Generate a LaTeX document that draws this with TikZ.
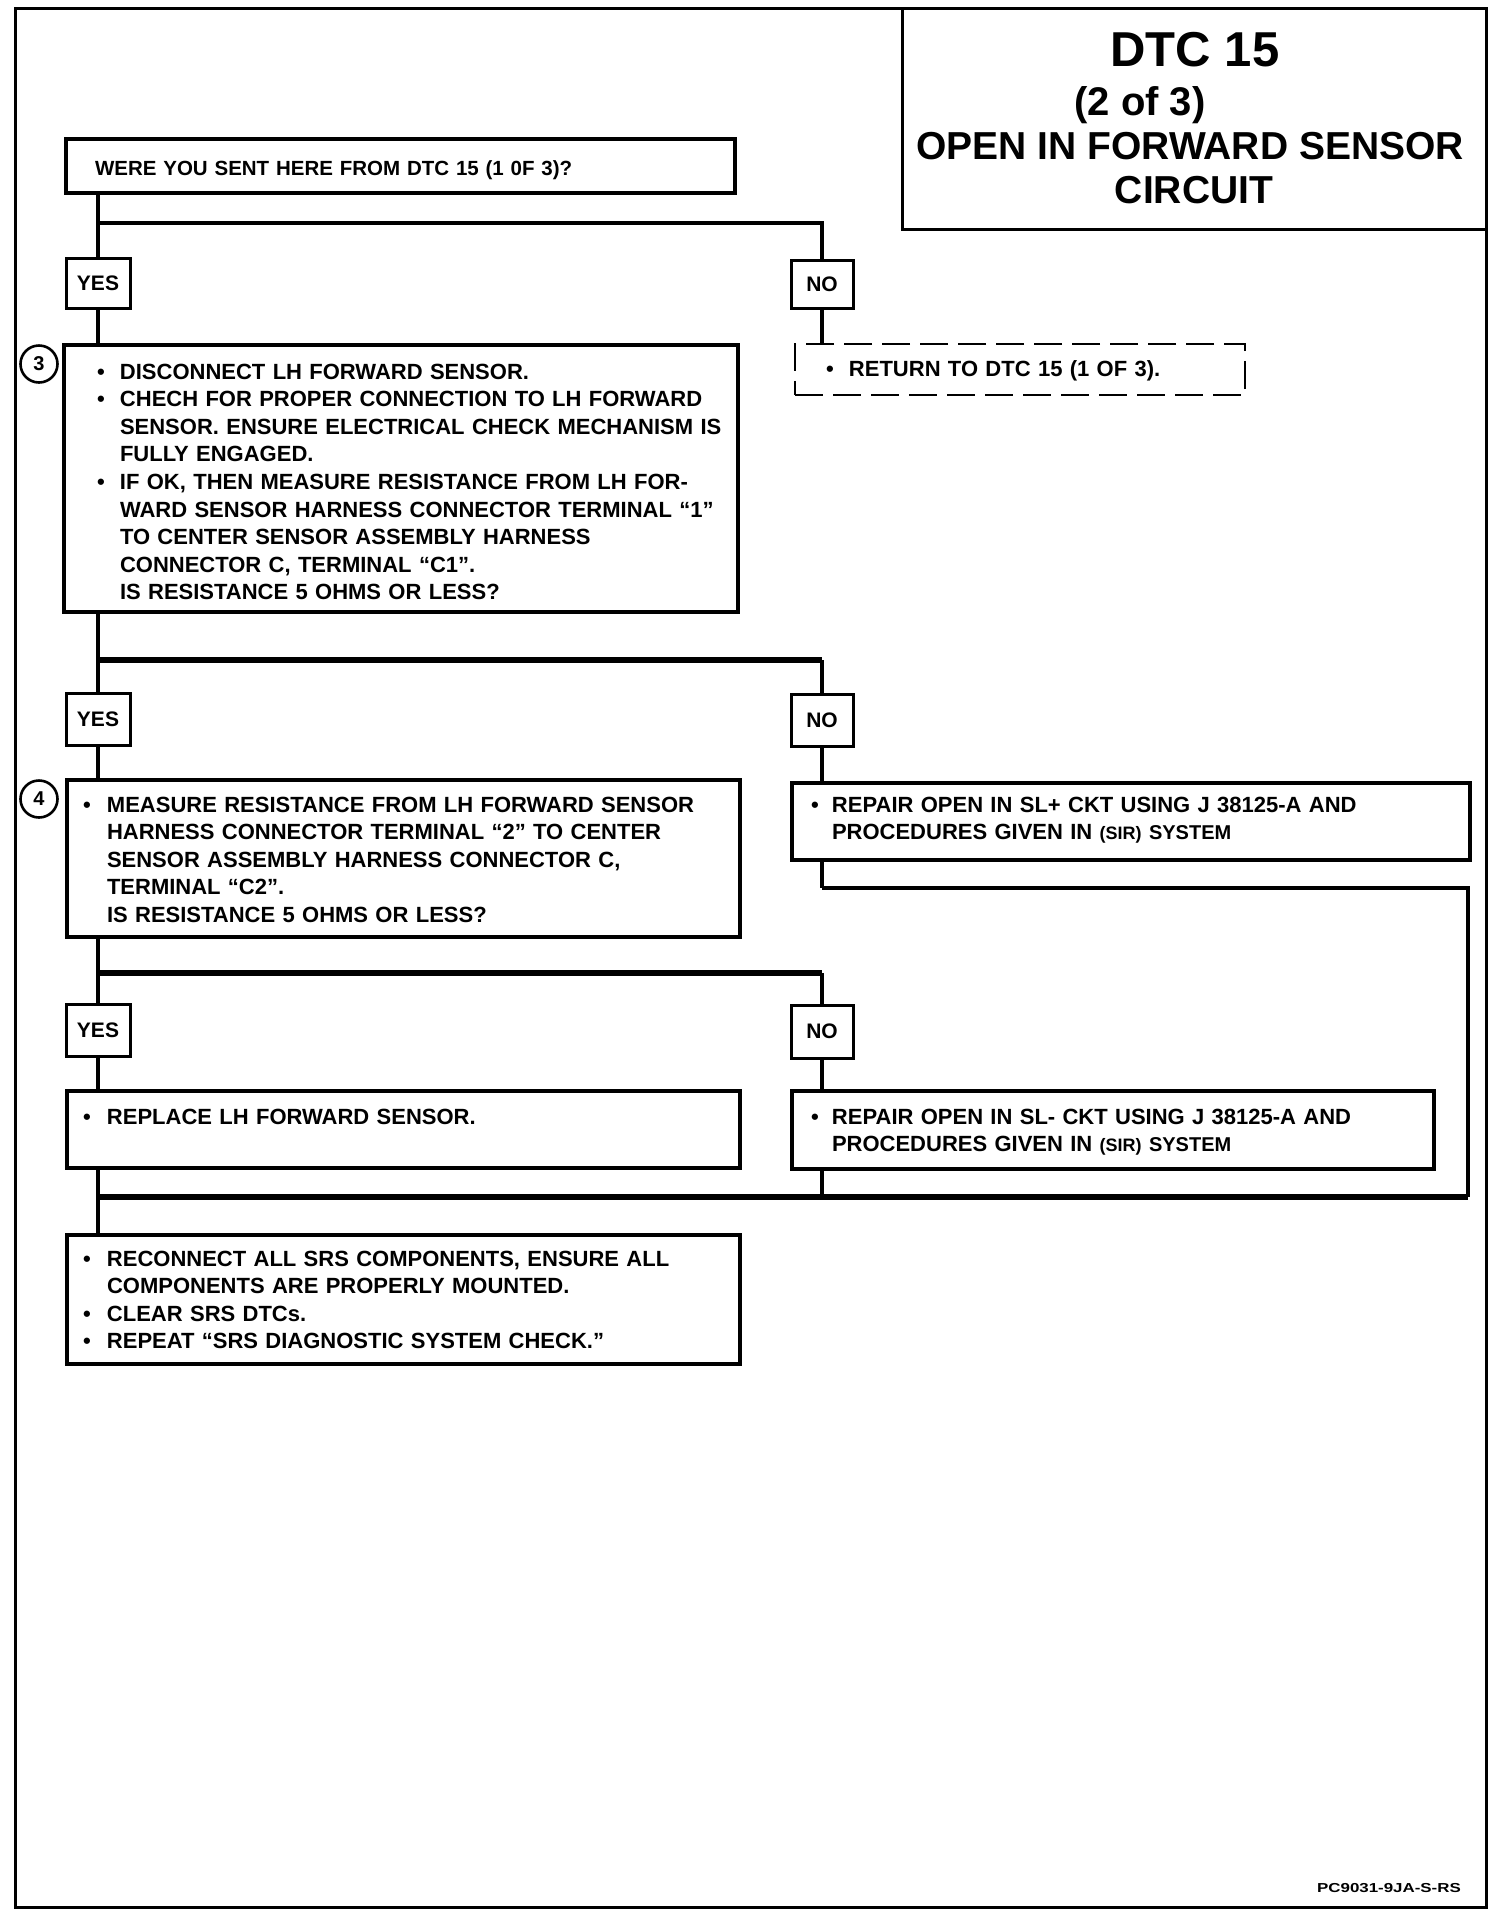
\documentclass[tikz,border=0pt]{standalone}
\usepackage{fontspec}
\setmainfont{Liberation Sans}
\usepackage{graphicx}
\newcommand{\bl}[1]{\makebox[#1][l]{\textbullet}}
\begin{document}
\begin{tikzpicture}[x=1pt,y=-1pt,
  box/.style={draw, line width=3.2pt, rectangle, inner sep=0pt, outer sep=0pt, anchor=north west},
  lbl/.style={box, line width=3pt, font=\fontsize{21}{24}\selectfont\bfseries},
  dbox/.style={box, line width=2.8pt, dash pattern=on 28pt off 10pt},
  num/.style={draw, circle, line width=2.6pt, minimum size=37pt, inner sep=0pt, font=\fontsize{20}{22}\selectfont\bfseries},
  txt/.style={inner sep=0pt, outer sep=0pt, anchor=base west, text width=680pt, align=left, font=\fontsize{22}{27.6}\selectfont\bfseries},
  ttl/.style={inner sep=0pt, outer sep=0pt, anchor=base, font=\bfseries},
  trunk/.style={line width=3.6pt},
  bro/.style={line width=3.4pt},
  br/.style={line width=5.5pt},
  rt/.style={line width=4.5pt}]
\useasboundingbox (0,0) rectangle (1504,1920);
% frame and title
\node[box, line width=3pt, minimum width=1471pt, minimum height=1899pt] (fr) at (15,8) {};
\node[box, line width=3pt, minimum width=584pt, minimum height=221pt] (tb) at (902,8) {};
\node[ttl, font=\fontsize{49}{55}\selectfont\bfseries] (t1) at (1195,66) {DTC 15};
\node[ttl, font=\fontsize{40}{45}\selectfont\bfseries] (t2) at (1140,115) {(2 of 3)};
\node[ttl, font=\fontsize{39}{44}\selectfont\bfseries] (t3) at (1190,159) {OPEN IN FORWARD SENSOR};
\node[ttl, font=\fontsize{39}{44}\selectfont\bfseries] (t4) at (1194,203) {CIRCUIT};
% boxes
\node[box, minimum width=669pt, minimum height=54pt] (b1) at (66,139) {};
\node[txt, font=\fontsize{20.5}{25}\selectfont\bfseries] (tx1) at (95,175) {WERE YOU SENT HERE FROM DTC 15 (1 0F 3)?};
\node[lbl, minimum width=64pt, minimum height=50pt] (yes1) at (66,258) {YES};
\node[lbl, minimum width=62pt, minimum height=48pt] (no1) at (791,260) {NO};
\node[box, minimum width=674pt, minimum height=267pt] (b3) at (64,345) {};
\node[num] (c3) at (39,364) {3};
\node[txt] (tx3) at (97,379) {\bl{23pt}DISCONNECT LH FORWARD SENSOR.\\
\bl{23pt}CHECH FOR PROPER CONNECTION TO LH FORWARD\\
\hspace*{23pt}SENSOR. ENSURE ELECTRICAL CHECK MECHANISM IS\\
\hspace*{23pt}FULLY ENGAGED.\\
\bl{23pt}IF OK, THEN MEASURE RESISTANCE FROM LH FOR-\\
\hspace*{23pt}WARD SENSOR HARNESS CONNECTOR TERMINAL “1”\\
\hspace*{23pt}TO CENTER SENSOR ASSEMBLY HARNESS\\
\hspace*{23pt}CONNECTOR C, TERMINAL “C1”.\\
\hspace*{23pt}IS RESISTANCE 5 OHMS OR LESS?};
\node[dbox, minimum width=450pt, minimum height=51pt] (ret) at (795,344) {};
\node[txt] (txr) at (826,376) {\bl{23pt}RETURN TO DTC 15 (1 OF 3).};
\node[lbl, minimum width=64pt, minimum height=52pt] (yes2) at (66,693) {YES};
\node[lbl, minimum width=62pt, minimum height=52pt] (no2) at (791,694) {NO};
\node[box, minimum width=673pt, minimum height=157pt] (b4) at (67,780) {};
\node[num] (c4) at (39,799) {4};
\node[txt] (tx4) at (83,812) {\bl{24pt}MEASURE RESISTANCE FROM LH FORWARD SENSOR\\
\hspace*{24pt}HARNESS CONNECTOR TERMINAL “2” TO CENTER\\
\hspace*{24pt}SENSOR ASSEMBLY HARNESS CONNECTOR C,\\
\hspace*{24pt}TERMINAL “C2”.\\
\hspace*{24pt}IS RESISTANCE 5 OHMS OR LESS?};
\node[box, minimum width=678pt, minimum height=77pt] (slp) at (792,783) {};
\node[txt] (txp) at (811,812) {\bl{21pt}REPAIR OPEN IN SL+ CKT USING J 38125-A AND\\
\hspace*{21pt}PROCEDURES GIVEN IN {\fontsize{18}{20}\selectfont (SIR)} {\fontsize{20}{22}\selectfont SYSTEM}};
\node[lbl, minimum width=64pt, minimum height=52pt] (yes3) at (66,1004) {YES};
\node[lbl, minimum width=62pt, minimum height=53pt] (no3) at (791,1005) {NO};
\node[box, minimum width=673pt, minimum height=77pt] (rep) at (67,1091) {};
\node[txt] (txe) at (83,1124) {\bl{24pt}REPLACE LH FORWARD SENSOR.};
\node[box, minimum width=642pt, minimum height=78pt] (sln) at (792,1091) {};
\node[txt] (txn) at (811,1124) {\bl{21pt}REPAIR OPEN IN SL- CKT USING J 38125-A AND\\
\hspace*{21pt}PROCEDURES GIVEN IN {\fontsize{18}{20}\selectfont (SIR)} {\fontsize{20}{22}\selectfont SYSTEM}};
\node[box, minimum width=673pt, minimum height=129pt] (fin) at (67,1235) {};
\node[txt] (txf) at (83,1266) {\bl{24pt}RECONNECT ALL SRS COMPONENTS, ENSURE ALL\\
\hspace*{24pt}COMPONENTS ARE PROPERLY MOUNTED.\\
\bl{24pt}CLEAR SRS DTCs.\\
\bl{24pt}REPEAT “SRS DIAGNOSTIC SYSTEM CHECK.”};
\node[ttl, font=\fontsize{13}{15}\selectfont\bfseries] (foot) at (1389,1892) {\scalebox{1.3}[1]{PC9031-9JA-S-RS}};
% branch coordinates
\coordinate (h1) at (0,223);
\coordinate (h2) at (0,660);
\coordinate (h3) at (0,973);
\coordinate (hm) at (0,1197);
\coordinate (r1) at (1468,888);
% connectors
\draw[trunk] (b1.south -| yes1.north) -- (yes1.north);
\draw[bro] (yes1 |- h1) -| (no1.north);
\draw[trunk] (yes1.south) -- (b3.north -| yes1.south);
\draw[trunk] (no1.south) -- (ret.north -| no1.south);
\draw[trunk] (b3.south -| yes2.north) -- (yes2.north);
\draw[br] (yes2 |- h2) -- (no2 |- h2);
\draw[trunk] (no2 |- h2) -- (no2.north);
\draw[trunk] (yes2.south) -- (b4.north -| yes2.south);
\draw[trunk] (no2.south) -- (slp.north -| no2.south);
\draw[trunk] (slp.south -| no2.south) -- (no2 |- r1);
\draw[rt] (no2 |- r1) -- (r1) -- (r1 |- hm);
\draw[trunk] (b4.south -| yes3.north) -- (yes3.north);
\draw[br] (yes3 |- h3) -- (no3 |- h3);
\draw[trunk] (no3 |- h3) -- (no3.north);
\draw[trunk] (yes3.south) -- (rep.north -| yes3.south);
\draw[trunk] (no3.south) -- (sln.north -| no3.south);
\draw[trunk] (sln.south -| no3.south) -- (no3 |- hm);
\draw[trunk] (rep.south -| yes3.south) -- (fin.north -| yes3.south);
\draw[br] (yes3 |- hm) -- (r1 |- hm);
\end{tikzpicture}
\end{document}
